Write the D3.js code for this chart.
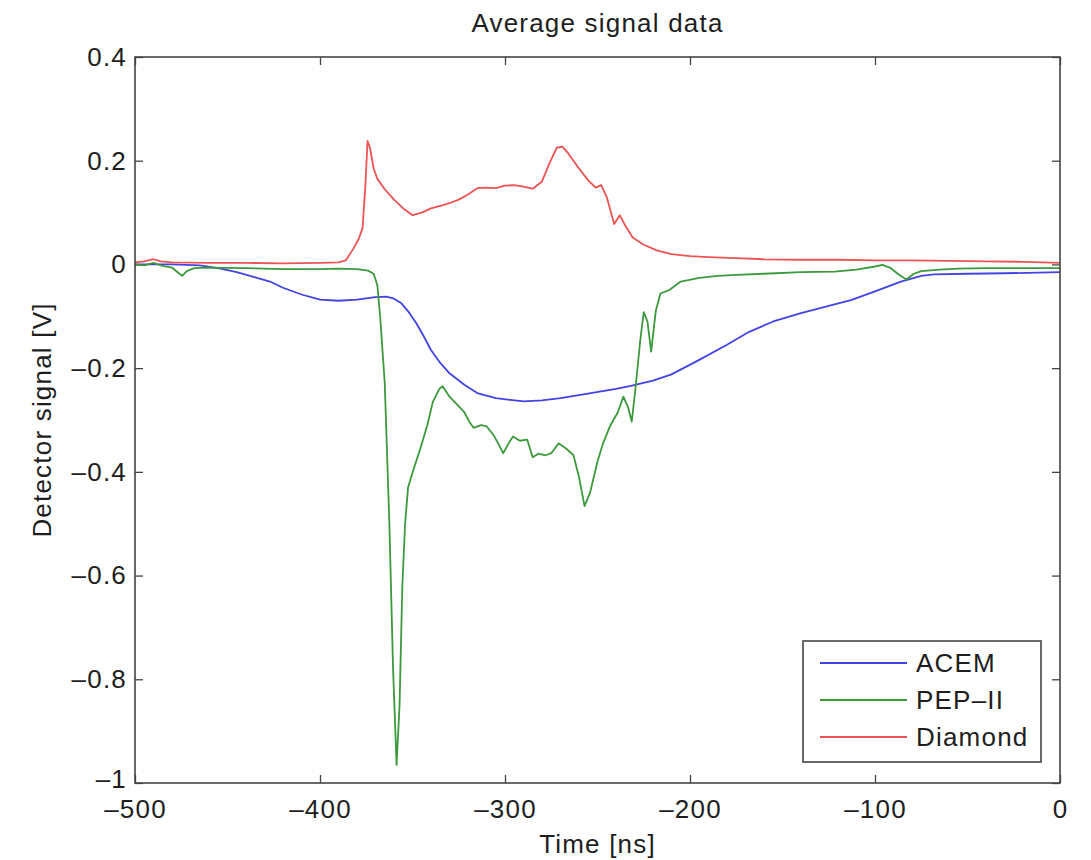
<!DOCTYPE html>
<html>
<head>
<meta charset="utf-8">
<script src="https://cdn.jsdelivr.net/npm/d3@7"></script>
<style>
  body { margin: 0; background: #fff; }
  text { font-family: "Liberation Sans", Arial, sans-serif; fill: #1e1e1e; letter-spacing: 1.2px; }
</style>
</head>
<body>
<div id="chart"></div>
<script>
// chart data [time ns, signal V]
const acem = [
  [-500, 0.000], [-480, 0.000], [-465, -0.002], [-455, -0.007], [-445, -0.015],
  [-435, -0.025], [-427, -0.033], [-420, -0.045], [-410, -0.058], [-400, -0.068],
  [-390, -0.070], [-380, -0.068], [-370, -0.063], [-364, -0.062], [-360, -0.066],
  [-356, -0.075], [-352, -0.092], [-348, -0.113], [-344, -0.138], [-340, -0.165],
  [-335, -0.190], [-330, -0.210], [-322, -0.232], [-315, -0.248], [-305, -0.258],
  [-290, -0.264], [-280, -0.262], [-270, -0.258], [-260, -0.252], [-248, -0.245],
  [-240, -0.240], [-232, -0.234], [-220, -0.224], [-210, -0.212], [-195, -0.184],
  [-180, -0.155], [-168, -0.130], [-155, -0.110], [-140, -0.094], [-125, -0.080],
  [-113, -0.069], [-100, -0.052], [-86, -0.033], [-75, -0.022], [-68, -0.019],
  [-50, -0.018], [-30, -0.017], [0, -0.015]
];

const pep2 = [
  [-500, 0.000], [-495, -0.002], [-490, 0.003], [-485, -0.003], [-480, -0.006],
  [-476, -0.018], [-474.5, -0.022], [-472, -0.013], [-468, -0.007], [-460, -0.006],
  [-440, -0.007], [-420, -0.009], [-400, -0.009], [-390, -0.008], [-380, -0.009],
  [-374, -0.012], [-371, -0.018], [-369, -0.040], [-367.5, -0.100], [-365, -0.229],
  [-362.5, -0.50], [-360.5, -0.78], [-358.6, -0.965], [-357, -0.85], [-355.5, -0.62],
  [-354, -0.50], [-352.4, -0.43], [-349, -0.39], [-346, -0.358], [-342, -0.31],
  [-339, -0.265], [-335.5, -0.240], [-333.7, -0.235], [-330, -0.255], [-326, -0.270],
  [-322, -0.285], [-319, -0.305], [-317, -0.315], [-313, -0.310], [-310, -0.312],
  [-306, -0.330], [-303, -0.350], [-301, -0.364], [-298, -0.345], [-295.7, -0.332],
  [-292, -0.340], [-288, -0.338], [-285, -0.372], [-282, -0.365], [-278, -0.368],
  [-275, -0.364], [-271, -0.345], [-267, -0.355], [-263, -0.368], [-260, -0.410],
  [-257, -0.466], [-254, -0.440], [-250, -0.380], [-247, -0.345], [-243, -0.310],
  [-239, -0.285], [-236, -0.255], [-233.5, -0.275], [-231.5, -0.303], [-229.5, -0.240],
  [-227, -0.150], [-225, -0.092], [-223, -0.110], [-221, -0.168], [-218.5, -0.090],
  [-216, -0.056], [-211, -0.049], [-205, -0.033], [-195, -0.026], [-185, -0.022],
  [-175, -0.020], [-160, -0.018], [-140, -0.015], [-122, -0.014], [-110, -0.010],
  [-100, -0.004], [-96, -0.001], [-92, -0.006], [-87, -0.020], [-83, -0.029],
  [-79, -0.018], [-75, -0.013], [-65, -0.010], [-55, -0.008], [-40, -0.007],
  [-20, -0.007], [0, -0.007]
];

const diamond = [
  [-500, 0.004], [-495, 0.006], [-490, 0.010], [-486, 0.006], [-480, 0.004],
  [-460, 0.003], [-440, 0.003], [-420, 0.002], [-400, 0.003], [-390, 0.004],
  [-386, 0.008], [-382, 0.030], [-379, 0.050], [-377, 0.070], [-375.5, 0.150],
  [-374.3, 0.238], [-373, 0.225], [-371, 0.185], [-369, 0.165], [-365, 0.145],
  [-360, 0.125], [-355, 0.108], [-350, 0.095], [-345, 0.100], [-340, 0.108],
  [-335, 0.113], [-330, 0.118], [-325, 0.125], [-320, 0.135], [-315, 0.147],
  [-310, 0.148], [-305, 0.147], [-300, 0.152], [-295, 0.153], [-290, 0.150],
  [-285, 0.146], [-280, 0.160], [-276, 0.195], [-272, 0.225], [-269, 0.227],
  [-266, 0.215], [-260, 0.185], [-255, 0.162], [-251, 0.148], [-248, 0.153],
  [-245, 0.130], [-241, 0.078], [-238, 0.095], [-235, 0.075], [-231, 0.052],
  [-225, 0.038], [-218, 0.027], [-210, 0.020], [-200, 0.016], [-190, 0.014],
  [-175, 0.012], [-160, 0.010], [-140, 0.009], [-120, 0.009], [-100, 0.008],
  [-80, 0.008], [-60, 0.007], [-40, 0.006], [-20, 0.005], [0, 0.003]
];

const seriesNames = ["ACEM", "PEP\u2013II", "Diamond"];
const seriesColors = ["#4343e4", "#3c993c", "#ec5353"];

const xTicks = [-500, -400, -300, -200, -100, 0];
const xTickLabels = ["\u2013500", "\u2013400", "\u2013300", "\u2013200", "\u2013100", "0"];
const yTicks = [-1, -0.8, -0.6, -0.4, -0.2, 0, 0.2, 0.4];
const yTickLabels = ["\u20131", "\u20130.8", "\u20130.6", "\u20130.4", "\u20130.2", "0", "0.2", "0.4"];

// set the dimensions and margins of the graph
const width = 1091,
      height = 860,
      margin = {top: 57, bottom: 77, left: 135, right: 31};
const plotW = width - margin.left - margin.right,
      plotH = height - margin.top - margin.bottom;

const svg = d3.select("#chart")
  .append("svg")
  .attr("width", width)
  .attr("height", height);

const g = svg.append("g")
  .attr("transform", `translate(${margin.left},${margin.top})`);

const xScale = d3.scaleLinear().domain([-500, 0]).range([0, plotW]);
const yScale = d3.scaleLinear().domain([-1, 0.4]).range([plotH, 0]);

const fontSize = 26;

// axes, MATLAB style: ticks point inward on all four sides
function styleAxis(sel) {
  sel.select(".domain").remove();
  sel.selectAll(".tick line").attr("stroke", "#444").attr("stroke-width", 1.3);
  sel.selectAll(".tick text")
    .style("font-size", fontSize + "px")
    .style("font-family", '"Liberation Sans", Arial, sans-serif')
    .attr("fill", "#1e1e1e");
}

g.append("g")
  .attr("transform", `translate(0,${plotH})`)
  .call(d3.axisBottom(xScale).tickValues(xTicks)
    .tickFormat((d, i) => xTickLabels[i]).tickSizeInner(-8).tickSizeOuter(0).tickPadding(17))
  .call(styleAxis);

g.append("g")
  .call(d3.axisTop(xScale).tickValues(xTicks).tickFormat("").tickSizeInner(-8).tickSizeOuter(0))
  .call(styleAxis);

g.append("g")
  .call(d3.axisLeft(yScale).tickValues(yTicks)
    .tickFormat((d, i) => yTickLabels[i]).tickSizeInner(-8).tickSizeOuter(0).tickPadding(8))
  .call(styleAxis)
  // the -1 label sits tight against the -500 label, lift it a touch
  .selectAll(".tick text")
  .filter(d => d === -1)
  .attr("y", -4);

g.append("g")
  .attr("transform", `translate(${plotW},0)`)
  .call(d3.axisRight(yScale).tickValues(yTicks).tickFormat("").tickSizeInner(-8).tickSizeOuter(0))
  .call(styleAxis);

// lines
const line = d3.line()
  .x(d => xScale(d[0]))
  .y(d => yScale(d[1]))
  .curve(d3.curveLinear);

[acem, pep2, diamond].forEach((data, i) => {
  g.append("path")
    .datum(data)
    .attr("fill", "none")
    .attr("stroke", seriesColors[i])
    .attr("stroke-width", 1.8)
    .attr("stroke-linejoin", "round")
    .attr("d", line);
});

// box
g.append("rect")
  .attr("width", plotW)
  .attr("height", plotH)
  .attr("fill", "none")
  .attr("stroke", "#444")
  .attr("stroke-width", 1.6);

// title and axis labels
svg.append("text")
  .attr("x", margin.left + plotW / 2)
  .attr("y", 32)
  .attr("text-anchor", "middle")
  .style("font-size", fontSize + "px")
  .text("Average signal data");

svg.append("text")
  .attr("x", margin.left + plotW / 2)
  .attr("y", 853)
  .attr("text-anchor", "middle")
  .style("font-size", fontSize + "px")
  .text("Time [ns]");

svg.append("text")
  .attr("transform", `translate(51,${margin.top + plotH / 2}) rotate(-90)`)
  .attr("text-anchor", "middle")
  .style("font-size", fontSize + "px")
  .text("Detector signal [V]");

// legend
const legendBox = {x: 803, y: 641, w: 238, h: 121};
const legend = svg.append("g");

legend.append("rect")
  .attr("x", legendBox.x)
  .attr("y", legendBox.y)
  .attr("width", legendBox.w)
  .attr("height", legendBox.h)
  .attr("fill", "#fff")
  .attr("stroke", "#444")
  .attr("stroke-width", 1.6);

const item = legend.selectAll(".legend")
  .data(seriesNames)
  .enter()
  .append("g")
  .attr("class", "legend")
  .attr("transform", (d, i) => `translate(${legendBox.x},${legendBox.y + 22 + i * 37})`);

item.append("line")
  .attr("x1", 17)
  .attr("x2", 104)
  .attr("stroke", (d, i) => seriesColors[i])
  .attr("stroke-width", 1.8);

item.append("text")
  .attr("x", 113)
  .attr("dy", ".35em")
  .style("font-size", fontSize + "px")
  .text(d => d);
</script>
</body>
</html>
